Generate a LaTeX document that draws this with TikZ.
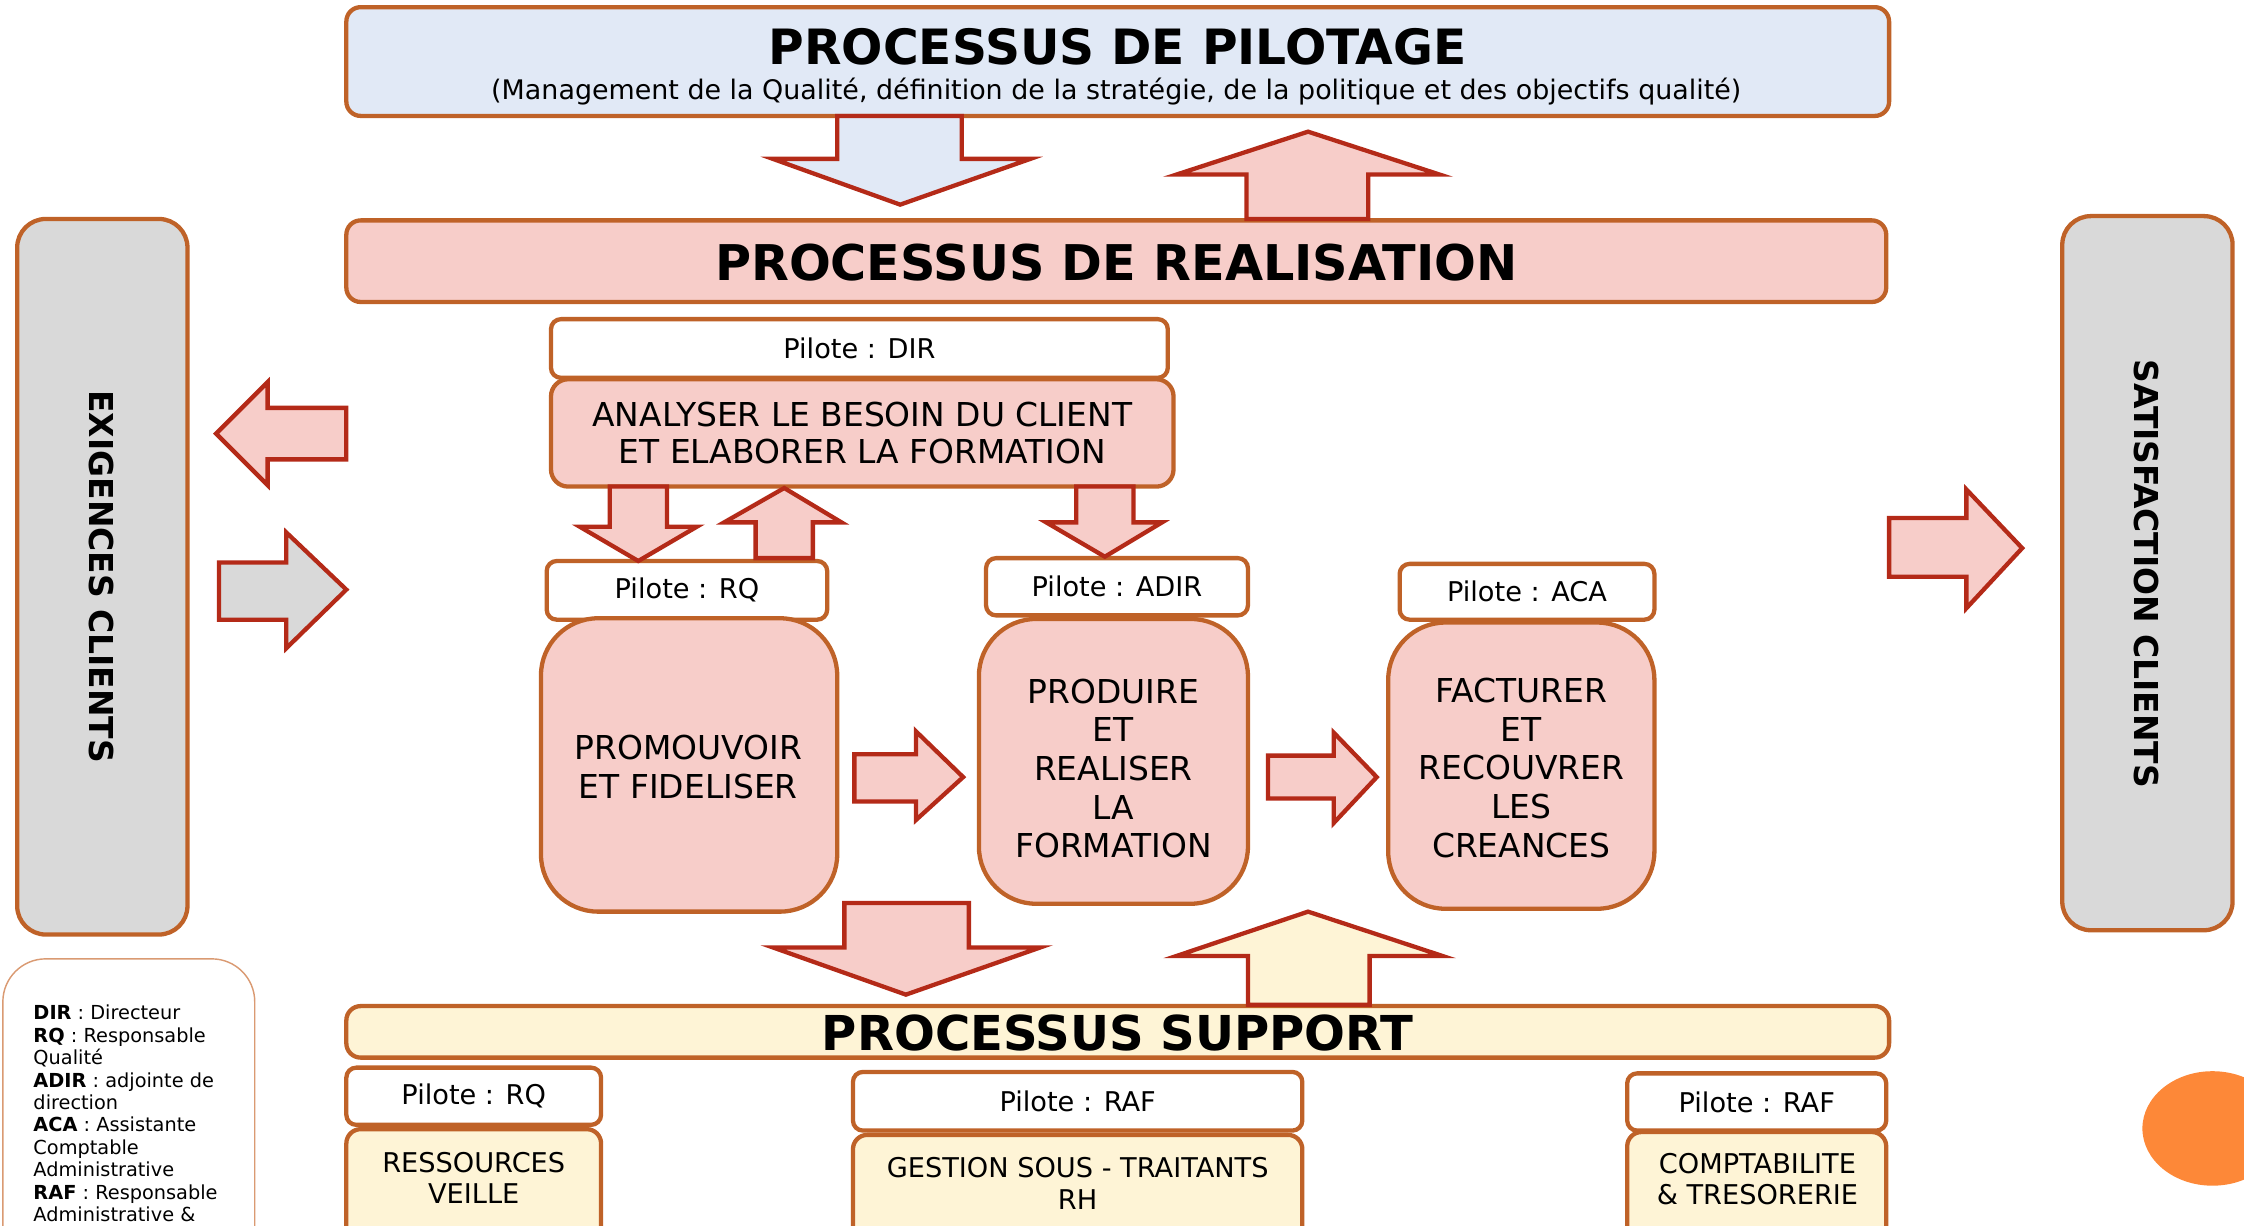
\documentclass[tikz,border=0pt]{standalone}
\usepackage{fontspec}
\setmainfont{DejaVu Sans}
\usetikzlibrary{shapes.geometric}
\definecolor{bord}{HTML}{BF6228}
\definecolor{ared}{HTML}{B42A18}
\definecolor{pinkf}{HTML}{F7CDC9}
\definecolor{bluef}{HTML}{E1E9F6}
\definecolor{creamf}{HTML}{FEF4D6}
\definecolor{grayf}{HTML}{D9D9D9}
\definecolor{orng}{HTML}{FD8838}
\definecolor{legb}{HTML}{DA9A72}
\newcommand{\fsz}[2]{\fontsize{#1pt}{#2pt}\selectfont}
\begin{document}
\begin{tikzpicture}[x=0.5pt,y=-0.5pt,
  pbox/.style={draw=bord, line width=1.5pt, inner sep=0pt, align=center},
  pwhite/.style={pbox, fill=white, rounded corners=3.5pt, font=\fsz{9.5}{11}},
  midbox/.style={pbox, fill=pinkf, rounded corners=20pt, font=\fsz{11.5}{13.5}},
  midtxt/.style={inner sep=0pt, align=center, font=\fsz{11.5}{13.5}},
  botbox/.style={pbox, fill=creamf, rounded corners=5pt},
  bottxt/.style={inner sep=0pt, align=center, font=\fsz{9.5}{11}},
  blk/.style={draw=ared, line width=1.5pt, line join=miter},
  vtxt/.style={rotate=-90, inner sep=0pt, font=\bfseries\fsz{11.5}{14}},
]
\useasboundingbox (0,0) rectangle (1568,856);

% ---- main bands
\node[pbox, fill=bluef, rounded corners=5pt, minimum width=539pt, minimum height=38pt] (pil) at (781,43) {};
\node[inner sep=0pt, font=\bfseries\fsz{17}{20}] (pilt) at (781,33) {PROCESSUS DE PILOTAGE};
\node[inner sep=0pt, font=\fsz{9.4}{11}] (pils) at (780,64) {(Management de la Qualité, définition de la stratégie, de la politique et des objectifs qualité)};

\node[pbox, fill=pinkf, rounded corners=5pt, minimum width=538pt, minimum height=28.5pt] (real) at (780,182.5) {};
\node[inner sep=0pt, font=\bfseries\fsz{17.2}{20}] (realt) at (780,183.5) {PROCESSUS DE REALISATION};

\node[pbox, fill=creamf, rounded corners=5pt, minimum width=539pt, minimum height=18pt] (supp) at (781,721) {};
\node[inner sep=0pt, font=\bfseries\fsz{16.8}{19}] (suppt) at (781,722) {PROCESSUS SUPPORT};

% ---- side columns
\node[pbox, fill=grayf, rounded corners=10pt, minimum width=59.5pt, minimum height=250pt] (exig) at (71.5,403) {};
\node[vtxt] (exigt) at (71,403) {EXIGENCES CLIENTS};
\node[pbox, fill=grayf, rounded corners=10pt, minimum width=59.5pt, minimum height=249.5pt] (satis) at (1500.5,400.5) {};
\node[vtxt] (satist) at (1500,401) {SATISFACTION CLIENTS};

% ---- realisation processes
\node[pwhite, minimum width=215.5pt, minimum height=20.5pt] (pdir) at (600.5,243.5) {Pilote : DIR};
\node[pbox, fill=pinkf, rounded corners=6pt, minimum width=217.5pt, minimum height=37.5pt, font=\fsz{11.5}{13}] (anal) at (602.5,302.5) {ANALYSER LE BESOIN DU CLIENT\\ET ELABORER LA FORMATION};

\node[pwhite, minimum width=98pt, minimum height=20.5pt] (prq) at (480,412.5) {Pilote : RQ};
\node[midbox, minimum width=103.5pt, minimum height=102.5pt] (prom) at (481.5,534.5) {};
\node[midtxt] (promt) at (481,536) {PROMOUVOIR\\ET FIDELISER};

\node[pwhite, minimum width=91.5pt, minimum height=20pt] (padir) at (780.5,410) {Pilote : ADIR};
\node[midbox, minimum width=94pt, minimum height=99.5pt] (prod) at (778,532) {};
\node[midtxt] (prodt) at (778,537) {PRODUIRE\\ET\\REALISER\\LA\\FORMATION};

\node[pwhite, minimum width=89pt, minimum height=19.5pt] (paca) at (1067,413.5) {Pilote : ACA};
\node[midbox, minimum width=93pt, minimum height=100pt] (fact) at (1063,535) {};
\node[midtxt] (factt) at (1063,536.5) {FACTURER\\ET\\RECOUVRER\\LES\\CREANCES};

% ---- support processes
\node[pwhite, minimum width=89pt, minimum height=20pt] (brq) at (331,766) {Pilote : RQ};
\node[botbox, minimum width=89pt, minimum height=50pt] (bres) at (331,839) {};
\node[bottxt] (brest) at (331,823) {RESSOURCES\\VEILLE};

\node[pwhite, minimum width=157pt, minimum height=20.5pt] (praf) at (753,769.5) {Pilote : RAF};
\node[botbox, minimum width=157pt, minimum height=50pt] (gest) at (753,843) {};
\node[bottxt] (gestt) at (753,827) {GESTION SOUS - TRAITANTS\\RH};

\node[pwhite, minimum width=90.5pt, minimum height=20pt] (praf2) at (1227.5,770) {Pilote : RAF};
\node[botbox, minimum width=90.5pt, minimum height=50pt] (comp) at (1227.5,841) {};
\node[bottxt] (compt) at (1228,824) {COMPTABILITE\\\& TRESORERIE};

% ---- legend
\node[draw=legb, line width=0.5pt, fill=white, rounded corners=15pt, minimum width=88pt, minimum height=115pt, inner sep=0pt] (leg) at (90,785) {};
\node[anchor=north west, inner sep=0pt, align=left, font=\fsz{6.75}{7.83}] (legt) at (23,702) {\textbf{DIR} : Directeur\\\textbf{RQ} : Responsable\\Qualité\\\textbf{ADIR} : adjointe de\\direction\\\textbf{ACA} : Assistante\\Comptable\\Administrative\\\textbf{RAF} : Responsable\\Administrative \&};

% ---- orange dot
\node[ellipse, fill=orng, minimum width=49pt, minimum height=40pt, inner sep=0pt] (dot) at (1546,788.5) {};

% ---- block arrows
\draw[blk, fill=bluef] (585,81) -- (672,81) -- (672,111) -- (720,111) -- (629,143) -- (540,111) -- (585,111) -- cycle;
\draw[blk, fill=pinkf] (871,153) -- (956,153) -- (956,122) -- (1006,122) -- (914,92) -- (822,122) -- (871,122) -- cycle;
\draw[blk, fill=pinkf] (242,285) -- (187,285) -- (187,267) -- (151,303) -- (187,339) -- (187,321) -- (242,321) -- cycle;
\draw[blk, fill=grayf] (153,393) -- (200,393) -- (200,372) -- (242,412) -- (200,453) -- (200,433) -- (153,433) -- cycle;
\draw[blk, fill=pinkf] (1320,362) -- (1374,362) -- (1374,342) -- (1413,383) -- (1374,425) -- (1374,403) -- (1320,403) -- cycle;
\draw[blk, fill=pinkf] (426,340) -- (466,340) -- (466,368) -- (487,368) -- (446,392) -- (405,368) -- (426,368) -- cycle;
\draw[blk, fill=pinkf] (528,390) -- (568,390) -- (568,365) -- (588,365) -- (548,341) -- (506,365) -- (528,365) -- cycle;
\draw[blk, fill=pinkf] (752,340) -- (792,340) -- (792,365) -- (812,365) -- (772,389) -- (731,365) -- (752,365) -- cycle;
\draw[blk, fill=pinkf] (597,527) -- (640,527) -- (640,511) -- (673,543) -- (640,573) -- (640,560) -- (597,560) -- cycle;
\draw[blk, fill=pinkf] (886,528) -- (932,528) -- (932,512) -- (962,543) -- (932,575) -- (932,558) -- (886,558) -- cycle;
\draw[blk, fill=pinkf] (590,631) -- (677,631) -- (677,662) -- (727,662) -- (633,695) -- (540,662) -- (590,662) -- cycle;
\draw[blk, fill=creamf] (872,702) -- (957,702) -- (957,668) -- (1008,668) -- (914,637) -- (822,668) -- (872,668) -- cycle;
\end{tikzpicture}
\end{document}
